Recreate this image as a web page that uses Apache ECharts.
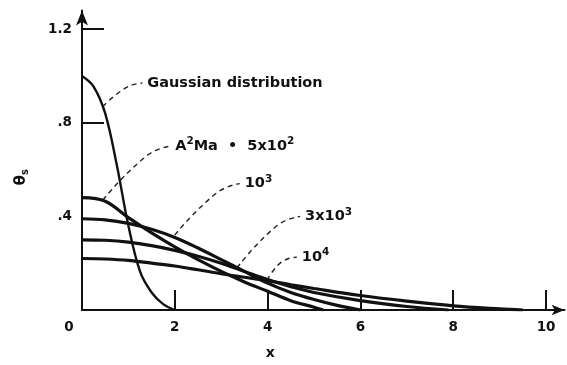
<!DOCTYPE html>
<html><head><meta charset="utf-8">
<script src="https://cdn.jsdelivr.net/npm/echarts@6/dist/echarts.min.js"></script>
<style>html,body{margin:0;padding:0;background:#fff}#c{width:567px;height:365px}</style>
</head><body><div id="c"></div>
<script>
// Curves: x positions and θs values
const gaussX = [0, 0.25, 0.5, 0.75, 1.0, 1.25, 1.5, 1.75, 2.0];
const gaussY = [1.0, 0.955, 0.84, 0.62, 0.36, 0.165, 0.075, 0.025, 0.0];
const ma500X = [0, 0.5, 1, 1.5, 2, 2.5, 3, 3.5, 4, 4.5, 5, 5.2];
const ma500Y = [0.48, 0.465, 0.395, 0.33, 0.27, 0.215, 0.165, 0.12, 0.08, 0.04, 0.012, 0];
const ma1000X = [0, 0.5, 1, 1.5, 2, 2.5, 3, 3.5, 4, 4.5, 5, 5.5, 6];
const ma1000Y = [0.39, 0.385, 0.37, 0.345, 0.31, 0.265, 0.215, 0.165, 0.115, 0.075, 0.045, 0.02, 0];
const ma3000X = [0, 0.5, 1, 1.5, 2, 2.5, 3, 3.5, 4, 4.5, 5, 6, 7, 7.9];
const ma3000Y = [0.30, 0.298, 0.29, 0.275, 0.255, 0.23, 0.2, 0.165, 0.13, 0.1, 0.075, 0.04, 0.015, 0];
const ma10000X = [0, 0.5, 1, 1.5, 2, 2.5, 3, 3.5, 4, 4.5, 5, 6, 7, 8, 9, 9.5];
const ma10000Y = [0.22, 0.218, 0.212, 0.2, 0.188, 0.172, 0.155, 0.14, 0.125, 0.108, 0.092, 0.062, 0.038, 0.018, 0.005, 0];

// Axis tick labels
const xLabelValues = [0, 2, 4, 6, 8, 10];
const xTickValues = [2, 4, 6, 8, 10];
const yLabelValues = [0.4, 0.8, 1.2];
const yLabelTexts = ['.4', '.8', '1.2'];
const yTickValues = [0.8, 1.2];

// Annotation leaders (data coordinates) and their texts
const annoTexts = ['Gaussian distribution', 'A{sup|2}Ma  •  5x10{sup|2}', '10{sup|3}', '3x10{sup|3}', '10{sup|4}'];
const annoLeaderX = [[0.45, 0.95, 1.3], [0.45, 1.4, 1.9], [2.0, 2.9, 3.4], [3.34, 4.2, 4.7], [3.99, 4.3, 4.63]];
const annoLeaderY = [[0.87, 0.95, 0.97], [0.47, 0.66, 0.70], [0.32, 0.50, 0.54], [0.18, 0.36, 0.40], [0.128, 0.205, 0.226]];

const FONT = 'DejaVu Sans';
const chart = echarts.init(document.getElementById('c'), null, {renderer: 'canvas'});

const curveDefs = [
  {x: gaussX, y: gaussY, w: 2.4},
  {x: ma500X, y: ma500Y, w: 3.2},
  {x: ma1000X, y: ma1000Y, w: 3.2},
  {x: ma3000X, y: ma3000Y, w: 3.2},
  {x: ma10000X, y: ma10000Y, w: 3.2}
];

const series = curveDefs.map(c => ({
  type: 'line',
  data: c.x.map((v, i) => [v, c.y[i]]),
  smooth: 0.35,
  showSymbol: false,
  silent: true,
  lineStyle: {color: '#111', width: c.w},
  z: 3
}));

const supStyle = {fontSize: 10.5, fontWeight: 'bold', fontFamily: FONT, color: '#111', padding: [0, 0, 9, 0]};

annoTexts.forEach((t, k) => {
  series.push({
    type: 'line',
    data: annoLeaderX[k].map((v, i) => [v, annoLeaderY[k][i]]),
    smooth: 0.5,
    showSymbol: false,
    silent: true,
    lineStyle: {color: '#222', width: 1.4, type: [5, 4]},
    endLabel: {
      show: true,
      formatter: () => t,
      distance: 5,
      fontSize: 14.5,
      fontWeight: 'bold',
      fontFamily: FONT,
      color: '#111',
      rich: {sup: supStyle}
    },
    z: 2
  });
});

chart.setOption({
  animation: false,
  backgroundColor: '#fff',
  grid: {left: 82, right: 2.4, top: 10.5, bottom: 55, containLabel: false},
  xAxis: {
    type: 'value', min: 0, max: 10.4,
    name: 'x', nameLocation: 'middle', nameGap: 36,
    nameTextStyle: {fontSize: 14, fontWeight: 'bold', fontFamily: FONT, color: '#111', padding: [0, 106, 0, 0]},
    axisLine: {show: true, lineStyle: {color: '#111', width: 1.8}, symbol: ['none', 'arrow'], symbolSize: [8, 13]},
    axisTick: {show: true, inside: true, length: 20, lineStyle: {color: '#111', width: 2}, customValues: xTickValues},
    axisLabel: {
      customValues: xLabelValues, margin: 10, fontSize: 13.5, fontWeight: 'bold', fontFamily: FONT, color: '#111',
      formatter: v => v === 0 ? '{z|0}' : String(v),
      rich: {z: {fontSize: 13.5, fontWeight: 'bold', fontFamily: FONT, color: '#111', padding: [0, 26, 0, 0]}}
    },
    splitLine: {show: false}
  },
  yAxis: {
    type: 'value', min: 0, max: 1.28,
    name: 'θ{s|s}', nameLocation: 'middle', nameRotate: 90, nameGap: 52,
    nameTextStyle: {fontSize: 15, fontWeight: 'bold', fontFamily: FONT, color: '#111', padding: [0, 34, 0, 0],
      rich: {s: {fontSize: 10, fontWeight: 'bold', fontFamily: FONT, color: '#111', padding: [8, 0, 0, 0]}}},
    axisLine: {show: true, lineStyle: {color: '#111', width: 2}, symbol: ['none', 'arrow'], symbolSize: [9, 15]},
    axisTick: {show: true, inside: true, length: 22, lineStyle: {color: '#111', width: 2}, customValues: yTickValues},
    axisLabel: {
      customValues: yLabelValues, margin: 10, fontSize: 13.5, fontWeight: 'bold', fontFamily: FONT, color: '#111',
      formatter: v => yLabelTexts[yLabelValues.findIndex(u => Math.abs(u - v) < 1e-6)] || ''
    },
    splitLine: {show: false}
  },
  series: series
});
</script>
</body></html>
